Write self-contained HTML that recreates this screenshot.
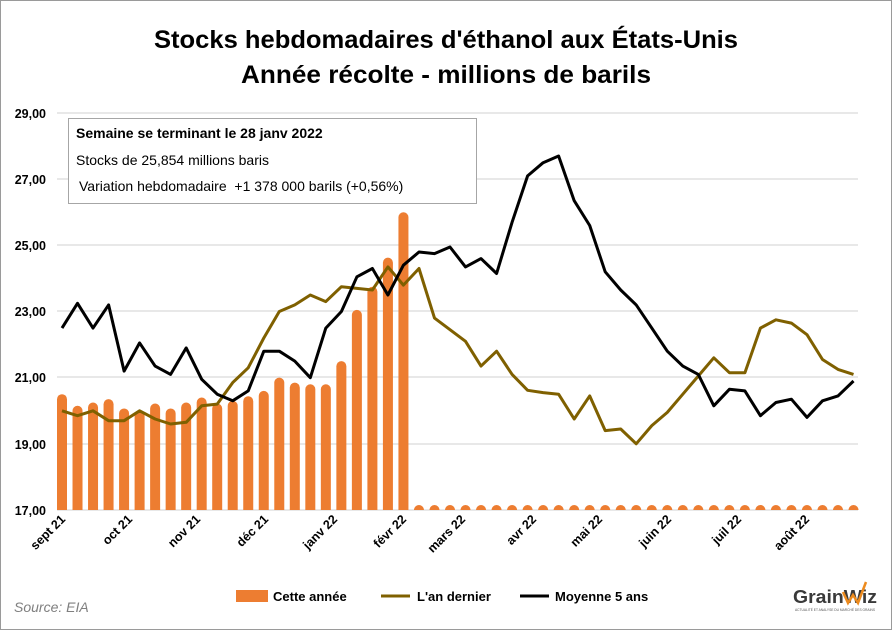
<!DOCTYPE html>
<html><head><meta charset="utf-8"><style>
html,body{margin:0;padding:0;background:#fff}
svg{display:block;font-family:"Liberation Sans",sans-serif}
</style></head><body>
<svg id="s" width="892" height="630" viewBox="0 0 892 630" xmlns="http://www.w3.org/2000/svg">
<rect x="0.5" y="0.5" width="891" height="629" fill="#fff" stroke="#9a9a9a"/>
<text x="446" y="48" text-anchor="middle" font-weight="bold" font-size="25" textLength="584" lengthAdjust="spacingAndGlyphs" fill="#000">Stocks hebdomadaires d'éthanol aux États-Unis</text>
<text x="446" y="83" text-anchor="middle" font-weight="bold" font-size="25" textLength="410" lengthAdjust="spacingAndGlyphs" fill="#000">Année récolte - millions de barils</text>
<g stroke="#d9d9d9" stroke-width="1.3">
<line x1="57" x2="858" y1="113" y2="113"/><line x1="57" x2="858" y1="179" y2="179"/>
<line x1="57" x2="858" y1="245" y2="245"/><line x1="57" x2="858" y1="311" y2="311"/>
<line x1="57" x2="858" y1="377" y2="377"/><line x1="57" x2="858" y1="444" y2="444"/>
<line x1="57" x2="858" y1="510" y2="510"/>
</g>
<g font-size="12.5" font-weight="bold" text-anchor="end" fill="#000">
<text x="46" y="118">29,00</text><text x="46" y="184">27,00</text><text x="46" y="250">25,00</text>
<text x="46" y="316">23,00</text><text x="46" y="382">21,00</text><text x="46" y="449">19,00</text>
<text x="46" y="515">17,00</text>
</g>
<g id="bars" fill="#ed7d31"></g>
<polyline id="olive" fill="none" stroke="#7f6000" stroke-width="3" stroke-linejoin="round"/>
<polyline id="black" fill="none" stroke="#000" stroke-width="3" stroke-linejoin="round"/>
<rect x="68.5" y="118.5" width="408" height="85" fill="#fff" stroke="#a6a6a6"/>
<text x="76" y="138" font-size="14" font-weight="bold">Semaine se terminant le 28 janv 2022</text>
<text x="76" y="165" font-size="14">Stocks de 25,854 millions baris</text>
<text x="79" y="191" font-size="14" xml:space="preserve">Variation hebdomadaire  +1 378 000 barils (+0,56%)</text>
<g font-size="12.5" font-weight="bold" text-anchor="end">
<text transform="translate(66,520) rotate(-45)">sept 21</text>
<text transform="translate(133,520) rotate(-45)">oct 21</text>
<text transform="translate(201,520) rotate(-45)">nov 21</text>
<text transform="translate(269,520) rotate(-45)">déc 21</text>
<text transform="translate(338,520) rotate(-45)">janv 22</text>
<text transform="translate(407,520) rotate(-45)">févr 22</text>
<text transform="translate(466,520) rotate(-45)">mars 22</text>
<text transform="translate(537,520) rotate(-45)">avr 22</text>
<text transform="translate(603,520) rotate(-45)">mai 22</text>
<text transform="translate(672,520) rotate(-45)">juin 22</text>
<text transform="translate(742,520) rotate(-45)">juil 22</text>
<text transform="translate(810,520) rotate(-45)">août 22</text>
</g>
<rect x="236" y="590" width="32" height="12" fill="#ed7d31"/>
<text x="273" y="601" font-size="13" font-weight="bold">Cette année</text>
<line x1="381" x2="410" y1="596" y2="596" stroke="#7f6000" stroke-width="3"/>
<text x="417" y="601" font-size="13" font-weight="bold">L'an dernier</text>
<line x1="520" x2="549" y1="596" y2="596" stroke="#000" stroke-width="3"/>
<text x="555" y="601" font-size="13" font-weight="bold">Moyenne 5 ans</text>
<text x="14" y="612" font-size="14" font-style="italic" fill="#7f7f7f">Source: EIA</text>
<text x="793" y="603" font-size="18" font-weight="bold" fill="#3a3a3a" textLength="84" lengthAdjust="spacingAndGlyphs">GrainWiz</text>
<polyline points="843,592 848,603 853,595 858,603 866,582" fill="none" stroke="#ed8b1e" stroke-width="2.5"/>
<text x="795" y="611" font-size="3.5" fill="#555" textLength="80" lengthAdjust="spacingAndGlyphs">ACTUALITÉ ET ANALYSE DU MARCHÉ DES GRAINS</text>
</svg>
<script>
var X=function(i){return 62+i*15.52},Y=function(v){return 510-(v-17)*33.08};
var b=[20.5,20.15,20.25,20.35,20.07,20.0,20.22,20.07,20.25,20.4,20.22,20.3,20.44,20.6,21.0,20.85,20.8,20.8,21.5,23.05,23.75,24.63,26.0];
var g='';for(var i=0;i<52;i++){var v=i<b.length?b[i]:17.15;var y=Y(v);var h=510-y;
g+='<path d="M'+(X(i)-5)+' 510 V'+(y+5)+' A5 5 0 0 1 '+(X(i)+5)+' '+(y+5)+' V510 Z"/>';}
document.getElementById('bars').innerHTML=g;
var o=[20.0,19.85,20.0,19.7,19.7,20.0,19.75,19.6,19.65,20.15,20.2,20.85,21.3,22.2,23.0,23.2,23.5,23.3,23.75,23.7,23.65,24.35,23.8,24.3,22.8,22.45,22.1,21.35,21.8,21.1,20.62,20.55,20.5,19.75,20.45,19.4,19.45,19.0,19.55,19.95,20.5,21.05,21.6,21.15,21.15,22.5,22.75,22.65,22.3,21.55,21.25,21.1];
var k=[22.5,23.25,22.5,23.2,21.2,22.05,21.35,21.1,21.9,20.95,20.5,20.3,20.6,21.8,21.8,21.5,21.0,22.5,23.0,24.05,24.3,23.5,24.4,24.8,24.75,24.95,24.35,24.6,24.15,25.7,27.1,27.5,27.7,26.35,25.6,24.2,23.65,23.2,22.5,21.8,21.35,21.1,20.15,20.65,20.6,19.85,20.25,20.35,19.8,20.3,20.45,20.9];
function pts(a){return a.map(function(v,i){return X(i).toFixed(1)+','+Y(v).toFixed(1)}).join(' ')}
document.getElementById('olive').setAttribute('points',pts(o));
document.getElementById('black').setAttribute('points',pts(k));
</script>
</body></html>
